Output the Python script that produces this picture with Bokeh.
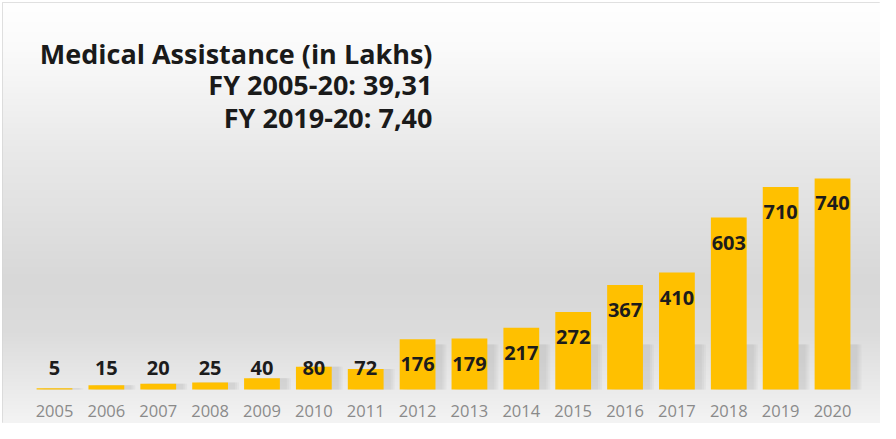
import numpy as np
from bokeh.plotting import figure
from bokeh.models import Range1d, FixedTicker, Label, ColumnDataSource
from bokeh.embed import file_html
from bokeh.resources import INLINE
from bokeh.core.properties import value

# ---- data ----
years = [2005, 2006, 2007, 2008, 2009, 2010, 2011, 2012,
         2013, 2014, 2015, 2016, 2017, 2018, 2019, 2020]
values = [5, 15, 20, 25, 40, 80, 72, 176, 179, 217, 272, 367, 410, 603, 710, 740]
title_main = "Medical Assistance (in Lakhs)"
title_sub1 = "FY 2005-20: 39,31"
title_sub2 = "FY 2019-20: 7,40"

# ---- layout ----
W, H = 880, 423
x0, x1 = 2003.9975, 2020.925
y0, y1 = -119.0, 1357.0
UPP = (y1 - y0) / 421.0  # data units per pixel
XPP = (x1 - x0) / 878.0

p = figure(width=W, height=H, output_backend="svg", toolbar_location=None,
           x_range=Range1d(x0, x1), y_range=Range1d(y0, y1),
           min_border_left=2, min_border_top=2, min_border_right=0, min_border_bottom=0)
p.border_fill_color = "white"
p.background_fill_color = "white"
p.outline_line_color = "#d6d6d6"
p.yaxis.visible = False
p.grid.visible = False

# background gradient (vertical), stops expressed in pixel rows of the frame
stops_px = [0, 50, 150, 280, 330, 387, 421]
stops_col = ["#ffffff", "#fafafa", "#e9e9e9", "#d8d8d8", "#dcdcdc", "#ebebeb", "#f4f4f4"]
def hex2rgb(h):
    return [int(h[i:i + 2], 16) for i in (1, 3, 5)]
rgb = np.array([hex2rgb(c) for c in stops_col], dtype=float)
N = 421
rows_from_top = (N - 1 - np.arange(N)) + 0.5
img = np.empty((N, 1), dtype=np.uint32)
view = img.view(dtype=np.uint8).reshape((N, 1, 4))
for k in range(3):
    view[:, 0, k] = np.interp(rows_from_top, stops_px, rgb[:, k]).astype(np.uint8)
view[:, 0, 3] = 255
p.image_rgba(image=[img], x=x0, y=y0, dw=x1 - x0, dh=y1 - y0)

# bars
vals = np.array(values, dtype=float)
label_y = np.maximum(vals - 25 * UPP, 22 * UPP)
shadow_top = np.minimum(vals, 45 * UPP)
src = ColumnDataSource(dict(year=years, value=values, label=[str(v) for v in values],
                            label_y=label_y, shadow_x=np.array(years) + 7 * XPP,
                            shadow_top=shadow_top))
# soft shadow behind the bars
for i, a in enumerate([0.08, 0.08, 0.09]):
    p.vbar(x="shadow_x", top="shadow_top", bottom=0, width=0.69 + (2 - i) * 4 * XPP,
           source=src, fill_color="#8c8c8c", fill_alpha=a, line_color=None)
p.vbar(x="year", top="value", bottom=0, width=0.69, source=src,
       fill_color="#FFC000", line_color=None)
p.text(x="year", y="label_y", text="label", source=src,
       text_align="center", text_baseline="middle",
       text_font=value("Open Sans"), text_font_style="bold",
       text_font_size="20px", text_color="#1c1c1c")

# x axis
ax = p.xaxis[0]
ax.ticker = FixedTicker(ticks=years)
ax.fixed_location = 0
ax.axis_line_color = None
ax.major_tick_line_color = None
ax.minor_tick_line_color = None
ax.major_label_text_color = "#8a8a8a"
ax.major_label_text_font = "Open Sans"
ax.major_label_text_font_size = "16.5px"
ax.major_label_standoff = 9

# title block (right aligned)
for txt, yy in [(title_main, 370), (title_sub1, 339), (title_sub2, 306)]:
    p.add_layout(Label(x=430, y=yy, x_units="screen", y_units="screen", text=txt,
                       text_align="right", text_baseline="alphabetic",
                       text_font="Open Sans", text_font_style="bold",
                       text_font_size="27px", text_color="#1a1a1a"))

open("out.html", "w").write(file_html(p, INLINE))
